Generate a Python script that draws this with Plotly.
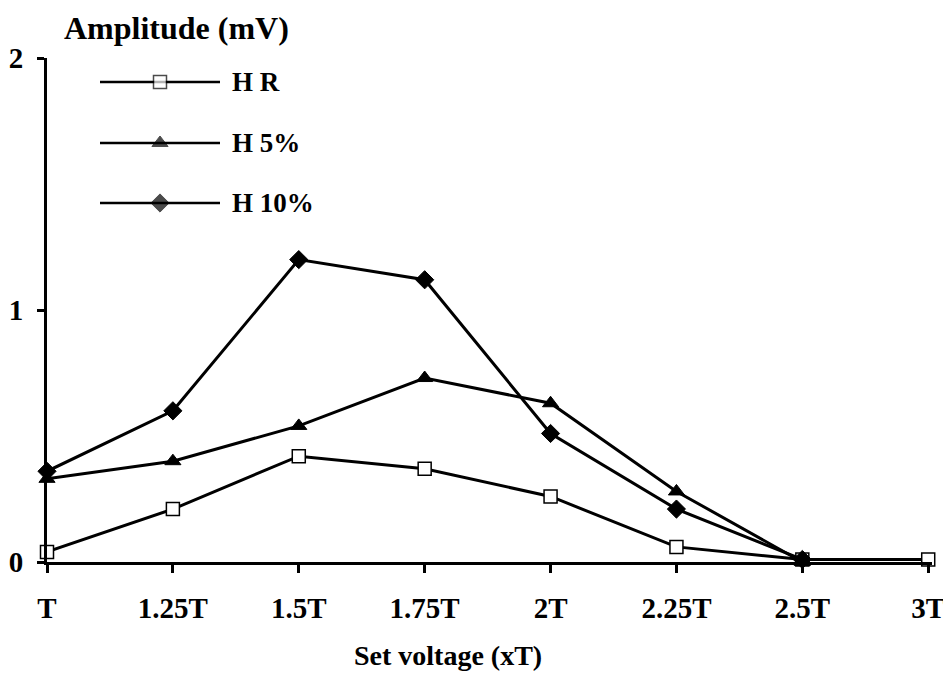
import plotly.graph_objects as go

categories = ["T", "1.25T", "1.5T", "1.75T", "2T", "2.25T", "2.5T", "3T"]
hr = [0.04, 0.21, 0.42, 0.37, 0.26, 0.06, 0.01, 0.01]
h5 = [0.33, 0.40, 0.54, 0.73, 0.63, 0.28, 0.0]
h10 = [0.36, 0.60, 1.20, 1.12, 0.51, 0.21, 0.01]
series_names = ["H R", "H 5%", "H 10%"]
y_ticks = [0, 1, 2]

FONT = "Liberation Serif, Times New Roman, serif"
idx = list(range(len(categories)))

styles = [
    dict(symbol="square", size=13, color="white", line=dict(color="black", width=1.5)),
    dict(symbol="triangle-up", size=14, color="black", line=dict(color="black", width=1)),
    dict(symbol="diamond", size=14, color="black", line=dict(color="black", width=1)),
]

# page has an 8px body margin: figure coords = page coords - OFF
OFF = 8
W, H = 951 - OFF, 698 - OFF
PL, PR, PT, PB = 47, 932, 58, 562          # plot area in page pixels
L, T = PL - OFF, PT - OFF
R, B = W - (PR - OFF), H - (PB - OFF)

fig = go.Figure()
for name, vals, st in zip(series_names, [hr, h5, h10], styles):
    fig.add_trace(go.Scatter(
        x=idx[:len(vals)], y=vals, mode="lines+markers", name=name,
        line=dict(color="black", width=3), marker=st, cliponaxis=False,
        showlegend=False,
    ))

# custom legend (overlay axes expressed in page pixels)
leg_y = [82, 143, 203]
for name, st, yy in zip(series_names, styles, leg_y):
    fig.add_trace(go.Scatter(
        x=[100, 160, 220], y=[yy, yy, yy], mode="lines+markers",
        xaxis="x2", yaxis="y2", showlegend=False, hoverinfo="skip",
        line=dict(color="black", width=2.5),
        marker=dict(symbol=st["symbol"], size=[0, st["size"], 0],
                    color=st["color"], line=st["line"]),
        cliponaxis=False,
    ))
    fig.add_annotation(x=230, y=yy, xref="x2", yref="y2", text=f"<b>{name}</b>",
                       showarrow=False, xanchor="left", yanchor="middle",
                       font=dict(family=FONT, size=27, color="black"))

fig.update_layout(
    width=W, height=H,
    margin=dict(l=L, r=R, t=T, b=B),
    paper_bgcolor="white", plot_bgcolor="white",
    font=dict(family=FONT, color="black"),
    xaxis=dict(
        range=[0, 7.03], tickmode="array", tickvals=idx, ticktext=[f"<b>{c}</b>" for c in categories],
        showline=True, linecolor="black", linewidth=3, ticks="outside", ticklen=8,
        tickwidth=3, tickcolor="black", showgrid=False, zeroline=False, automargin=False,
        tickfont=dict(family=FONT, size=29, color="black"), ticklabelstandoff=10,
    ),
    yaxis=dict(
        range=[0, 2], tickmode="array", tickvals=y_ticks, ticktext=[f"<b>{v}</b>" for v in y_ticks],
        showline=True, linecolor="black", linewidth=3, ticks="outside", ticklen=7,
        tickwidth=3, tickcolor="black", showgrid=False, zeroline=False, automargin=False,
        tickfont=dict(family=FONT, size=29, color="black"), ticklabelstandoff=8,
    ),
    xaxis2=dict(range=[PL, PR], overlaying="x", visible=False, domain=[0, 1]),
    yaxis2=dict(range=[PB, PT], overlaying="y", visible=False, domain=[0, 1]),
)

def px_to_paper(px, py):
    return (px - PL) / (PR - PL), (PB - py) / (PB - PT)

ax, ay = px_to_paper(62, 28)
fig.add_annotation(x=ax, y=ay, xref="paper", yref="paper", text="<b>Amplitude (mV)</b>",
                   showarrow=False, xanchor="left", yanchor="middle",
                   font=dict(family=FONT, size=32, color="black"))
sx, sy = px_to_paper(448, 655)
fig.add_annotation(x=sx, y=sy, xref="paper", yref="paper", text="<b>Set voltage (xT)</b>",
                   showarrow=False, xanchor="center", yanchor="middle",
                   font=dict(family=FONT, size=28, color="black"))

fig.write_html("out.html")
